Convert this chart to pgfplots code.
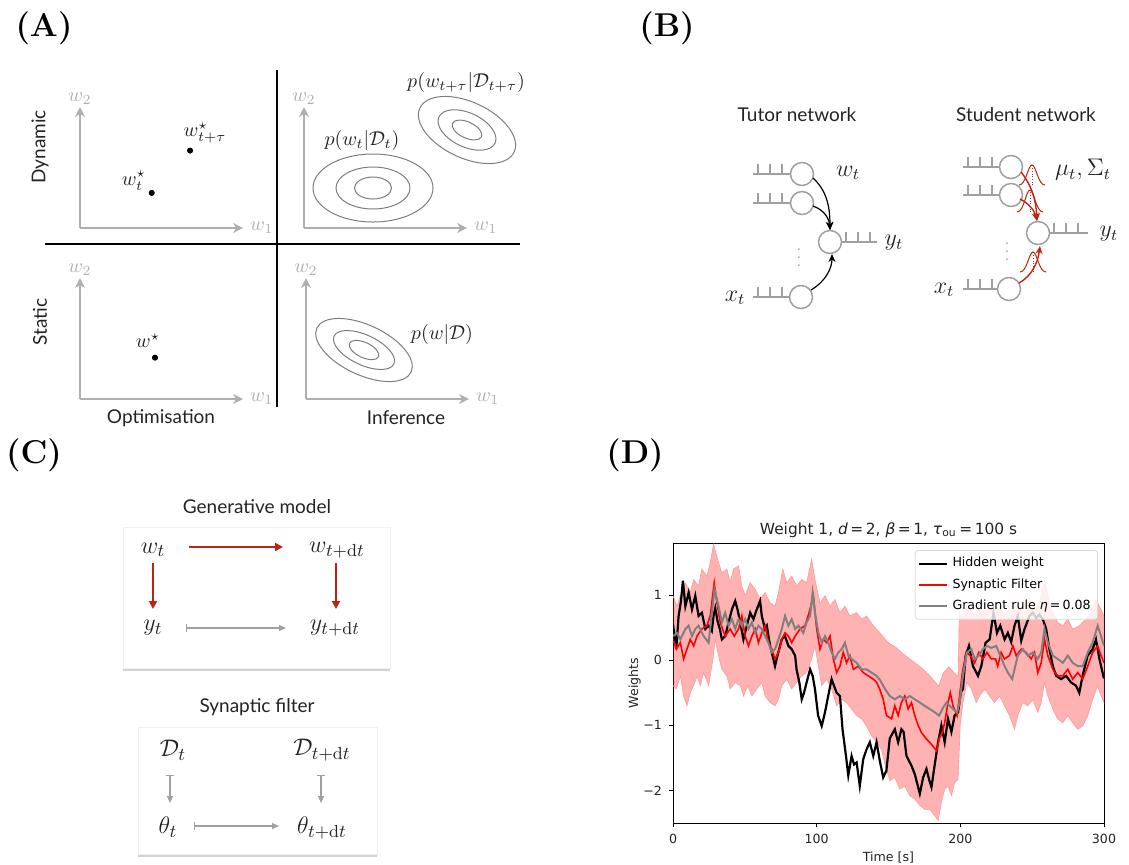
\documentclass[border=0pt]{standalone}
\usepackage{fontspec}
\usepackage{amsmath}
\usepackage{pgfplots}
\usepackage{pgfplotstable}
\pgfplotsset{compat=1.18}
\usetikzlibrary{arrows.meta,shadows}

\newfontfamily\gill{Lato}
\newfontfamily\dv{DejaVu Sans}

\definecolor{axgray}{RGB}{175,175,175}
\definecolor{ellgray}{RGB}{125,125,125}
\definecolor{neur}{RGB}{160,160,160}
\definecolor{darkred}{RGB}{190,35,20}
\definecolor{mplred}{RGB}{255,0,0}
\definecolor{mplgray}{RGB}{128,128,128}
\definecolor{txt}{RGB}{35,35,35}

\newcommand{\lblfont}{\fontsize{16.5}{20}\selectfont\bfseries}
\newcommand{\gs}{\gill\fontsize{9.5}{11}\selectfont}
\newcommand{\amath}{\fontsize{10}{12}\selectfont}
\newcommand{\bmath}{\fontsize{12}{14}\selectfont}
\newcommand{\cmath}{\fontsize{12.5}{15}\selectfont}
\newcommand{\dvs}{\dv\fontsize{6.3}{7.5}\selectfont}

% spike train: x0, x1, y
\newcommand{\train}[3]{%
  \draw[neur, line width=0.75pt] (#1,#3) -- (#2,#3);
  \foreach \k in {0,1,2} \draw[neur, line width=0.75pt] ({#1+5+12*\k},#3) -- ({#1+5+12*\k},{#3-10});}
% small gaussian: centre x, base y, height
\newcommand{\gauss}[3]{%
  \draw[darkred, line width=0.5pt] ({#1-13},#2) .. controls ({#1-6},#2) and ({#1-4},{#2-#3}) .. (#1,{#2-#3})
        .. controls ({#1+4},{#2-#3}) and ({#1+6},#2) .. ({#1+13},#2);
  \draw[darkred, densely dotted, line width=0.35pt] (#1,#2) -- (#1,{#2-#3});}

\pgfplotsset{
  mini/.style={anchor=south west, scale only axis, width=81.5pt, height=60.5pt,
    xmin=0, xmax=1, ymin=0, ymax=1, enlargelimits=false, axis lines=left,
    ticks=none, clip=false,
    axis line style={draw=axgray, line width=1pt, -{Stealth[length=5pt,width=5pt]}}},
}

% ---- panel D data ----
\pgfplotstableread{
t v
0 0.55
1.5 0.30
2.5 0.25
3.9 0.68
5.5 0.90
6.9 1.22
8.6 0.83
10.9 1.04
13.2 0.78
15.5 0.99
17.8 0.68
20.1 0.73
22.5 0.48
24.8 0.53
27 0.45
28.2 0.68
29.4 0.80
31 0.60
32.6 0.48
34 0.32
36.3 0.37
38.7 0.58
41 0.78
43.3 0.91
44.9 0.78
46.8 0.58
49 0.32
51.4 0.53
53.7 0.73
56 0.63
58.3 0.78
60.6 0.91
61.8 0.68
64 0.48
65.3 0.53
67.6 0.22
69.5 0.05
71 -0.09
72.7 0.07
75.7 0.32
78 0.37
80.3 0.22
82.6 0.17
85 0.07
86 -0.14
88 -0.35
89.6 -0.60
91.2 -0.50
93 -0.34
95.4 -0.14
97.2 -0.24
98.8 -0.44
101 -0.85
103.5 -1.01
105.8 -0.80
108 -0.55
110.4 -0.29
112 -0.39
113.9 -0.50
116.2 -0.55
118 -1.06
120.4 -1.47
122 -1.77
124.3 -1.47
126 -1.60
127.8 -1.57
130 -1.93
132.4 -1.52
134.7 -1.37
137 -1.26
139.4 -1.47
141.7 -1.26
144 -1.55
146.3 -1.80
148.5 -1.70
150.9 -1.20
154.4 -1.06
156.7 -1.26
159 -1.06
160.5 -1.10
162.5 -1.47
166 -1.62
168.3 -1.75
171.8 -2.05
174.1 -1.80
176.4 -1.67
178.5 -1.85
179.9 -1.95
182.2 -1.60
184.5 -1.26
186.8 -1.00
189.1 -1.26
191.4 -0.90
193.8 -1.10
196 -0.85
198.4 -0.80
200.4 -0.49
201.8 -0.44
203.7 0.07
206 0.22
208.8 -0.09
212.3 -0.24
214.6 -0.09
217.6 0.27
220.4 0.32
223.1 0.73
225.5 0.42
227.8 0.53
230.8 0.32
233.1 0.42
235.4 0.28
237.7 0.53
240 0.68
242.4 0.30
244.7 0.48
248.1 0.68
250.5 0.73
252.8 0.65
255 0.70
257.4 0.63
259.7 0.48
262 0.17
264.4 -0.09
266.7 -0.24
270.1 -0.29
273.6 -0.24
277 -0.34
280.5 -0.39
282.8 -0.50
285.1 -0.24
288.6 0.07
292.1 0.17
294.4 0.32
296.8 0.02
299.5 -0.24
300 -0.28
}\hiddenw

\pgfplotstableread{
t v
0 0.32
2.3 0.17
5.1 0.27
7.4 0.02
9.7 0.17
12 0.32
14.4 0.22
16.7 0.37
20.1 0.48
23.6 0.53
25.9 0.68
28.7 1.19
30.6 0.88
32.9 0.58
36.3 0.37
39.8 0.48
42.6 0.37
45.6 0.48
47.9 0.68
50.2 0.37
52.5 0.22
54.9 0.37
57.2 0.48
59.5 0.27
61.8 0.42
64.1 0.53
66.4 0.27
68.8 0.17
71 0.02
73.4 0.12
75.7 0.32
78 0.42
80.3 0.37
82.6 0.27
85 0.37
88.4 0.48
91.9 0.53
95.4 0.78
97.7 0.99
100 0.48
102.3 0.17
104.6 0.32
107 0.27
109.3 0.37
111.6 0.02
113.9 -0.19
116.2 -0.09
118.5 0.12
120.8 -0.04
123.1 0.07
125.5 -0.14
128.9 -0.09
132.4 -0.19
135.9 -0.24
139.4 -0.29
141.7 -0.34
144 -0.45
146.3 -0.60
148.6 -0.85
152.1 -0.90
154.4 -0.70
156.7 -0.85
159 -0.65
161.3 -0.55
163.7 -0.75
166 -0.65
168.3 -0.85
170.6 -1.00
172.9 -1.11
176.4 -1.21
179.9 -1.29
183.4 -1.39
185.2 -1.21
187.5 -1.11
189.1 -0.96
191.4 -0.65
193 -0.50
194.9 -0.70
197.7 -0.85
199.5 -0.55
201.4 -0.19
204.1 0.12
206.9 0.07
209.9 -0.04
212.9 0.12
215.7 0.02
218.5 0.12
221.5 0.02
224.5 0.02
226 -0.09
228.4 0.12
230.7 0.02
234.2 0.07
236.6 0.22
238.9 0.07
242.4 0.17
245.8 0.12
249.3 0.02
251.6 0.12
253.9 -0.19
256.3 -0.04
258.6 0.32
260.9 0.07
264.4 -0.14
267.8 -0.24
271.3 -0.24
274.8 -0.14
278.2 -0.29
281.7 -0.19
285.2 -0.29
288.7 -0.09
292.1 0.12
295.6 0.22
298 0.07
300 -0.04
}\filterw

\pgfplotstableread{
t v
0 0.37
2.8 0.42
5.1 0.32
8.6 0.48
10.9 0.53
13.2 0.37
15.5 0.48
17.8 0.53
21.3 0.37
24.8 0.27
27.1 0.73
28.9 1.09
31.7 0.83
34 0.58
36.3 0.73
38.7 0.53
41 0.63
43.3 0.48
45.6 0.63
47.9 0.53
50.2 0.63
52.5 0.48
54.9 0.58
57.2 0.42
59.5 0.53
61.8 0.48
64.1 0.37
66.4 0.27
68.8 0.12
71 0.17
73.4 0.32
75.7 0.48
78 0.68
80.3 0.53
82.6 0.63
85 0.48
87.3 0.53
90.7 0.42
93 0.58
95.4 0.68
97.2 1.04
98.8 0.73
101.2 0.42
103.5 0.27
105.8 0.37
108.1 0.27
110.4 0.12
112.7 0.02
115 0.12
117.4 0.17
119.7 0.27
122 0.07
124.3 0.02
127.8 -0.04
131.3 -0.14
134.7 -0.14
138.2 -0.19
141.7 -0.24
144 -0.30
147.5 -0.44
150.9 -0.55
154.4 -0.60
157.9 -0.55
161.3 -0.60
164.8 -0.55
168.3 -0.60
171.8 -0.65
175.2 -0.70
178.7 -0.75
182.2 -0.80
185.2 -0.85
188 -0.73
190.3 -0.65
192.6 -0.70
194.9 -0.75
197.7 -0.80
199.5 -0.65
201.8 -0.24
204.6 0.12
207.6 0.17
210 0.02
212.9 0.07
215.7 0.17
218.5 0.22
221.5 0.19
225 0.22
227.8 0.07
230.8 -0.09
233.1 -0.19
236.1 -0.29
237.7 -0.14
240 0.07
243.5 0.17
247 0.07
250.5 0.12
253.9 0.02
256.3 0.12
258.6 0.48
260.9 0.27
264.4 0.07
267.8 0.02
271.3 -0.04
274.8 0.07
278.2 -0.04
281.7 -0.09
285.2 -0.09
288.7 0.12
292.1 0.27
295.6 0.53
298 0.37
300 0.22
}\gradw

% band: upper edge left to right, then lower edge right to left
\pgfplotstableread{
t v
0 0.99
2.8 0.83
5.1 0.99
8.6 1.19
12 1.04
14.4 1.24
17.8 1.14
20.1 1.40
23.6 1.29
25.9 1.50
28.2 1.78
31.7 1.50
34 1.34
37.5 1.40
39.8 1.19
42.1 1.40
45.6 1.45
47.9 1.14
50.2 0.99
53.7 1.19
57.2 1.09
60.6 0.94
64.1 1.04
67.6 0.88
71 0.83
73.4 1.04
76.4 1.40
79.2 1.19
82.6 1.29
86.1 1.14
89.6 1.24
93 1.19
96.5 1.55
98.8 1.24
102.3 0.88
105.8 0.99
109.3 0.83
112.7 0.93
116.2 0.73
119.7 0.83
123.1 0.68
127.8 0.73
131.3 0.63
134.7 0.68
139.4 0.53
144 0.42
149.8 0.27
155 0.20
160 0.10
166 0.00
172 -0.10
178 -0.22
183 -0.35
185 -0.40
188 -0.20
192 -0.10
196 -0.20
198.5 -0.25
199.3 0.74
201.8 0.63
204.6 0.88
207.6 0.73
211.1 0.68
213.4 0.83
216.9 0.73
220.4 0.83
223.8 0.78
227.3 0.83
230.8 0.68
234.2 0.78
237.7 0.88
241.2 0.78
244.7 0.73
248.1 0.93
251.6 0.78
255 0.88
258.6 1.24
260.9 0.99
264.4 0.73
267.8 0.58
271.3 0.53
274.8 0.63
278.2 0.48
282.8 0.53
287.5 0.63
290.9 0.73
294.4 0.93
297.9 0.78
300 0.68
300 -0.65
298 -0.55
295.6 -0.39
292.1 -0.60
288.7 -0.85
285.2 -1.01
281.7 -1.06
278.2 -0.96
274.8 -0.85
271.3 -0.96
267.8 -0.90
264.4 -0.75
260.9 -0.55
258.6 -0.34
256.3 -0.65
253.9 -0.80
250.5 -0.60
247 -0.70
243.5 -0.65
240 -0.85
237.7 -1.06
234.2 -0.85
230.8 -0.70
227.3 -0.55
223.8 -0.65
220.4 -0.55
216.9 -0.44
213.4 -0.55
211.1 -0.65
207.6 -0.44
204.6 -0.34
201.8 -0.65
200 -0.96
198.4 -1.83
196 -1.88
193.8 -2.08
191.4 -1.93
189.1 -1.98
186.8 -2.18
184.6 -2.46
182.2 -2.39
178.7 -2.29
175.2 -2.29
171.8 -2.23
168.3 -2.13
164.8 -2.08
161.3 -1.93
157.9 -1.98
154.4 -1.80
150.9 -1.85
147.5 -1.60
145.1 -1.37
141.7 -1.26
138.2 -1.16
134.7 -1.01
131.3 -0.90
127.8 -0.85
124.3 -0.75
120.8 -0.65
117.4 -0.60
113.9 -0.70
110.4 -0.44
107 -0.29
103.5 -0.39
101.2 -0.09
98.8 0.22
96.5 0.02
93 -0.19
89.6 -0.24
86.1 -0.34
82.6 -0.44
79.2 -0.29
75.7 -0.39
73.4 -0.60
71 -0.70
67.6 -0.65
64.1 -0.55
61.8 -0.34
58.3 -0.44
54.9 -0.55
51.9 -0.39
49.1 -0.55
46.8 -0.39
43.3 -0.34
39.8 -0.44
37.5 -0.24
34 -0.14
31.7 0.07
29.4 0.32
27.8 0.02
24.8 -0.39
21.3 -0.19
19 -0.39
16.7 -0.24
14.4 -0.39
12 -0.50
9.7 -0.70
7.4 -0.55
5.1 -0.24
2.3 -0.44
0 -0.39
}\band

\begin{document}
\begin{tikzpicture}
\useasboundingbox (0,0) rectangle (564.5pt,-432pt);

\begin{scope}[x=0.5pt, y=-0.5pt]
% panel letters
\node[font=\lblfont] at (44,28) {(A)};
\node[font=\lblfont] at (667,28) {(B)};
\node[font=\lblfont] at (34,455) {(C)};
\node[font=\lblfont] at (635,455) {(D)};

% ---------- panel A ----------
\draw[black, line width=1pt] (277,70) -- (277,407);
\draw[black, line width=1pt] (45,244) -- (520,244);
\node[font=\gs, text=txt, rotate=90] at (40,147) {Dynamic};
\node[font=\gs, text=txt, rotate=90] at (40,322) {Static};
\node[font=\gs, text=txt] at (161,418) {Optimisation};
\node[font=\gs, text=txt] at (406,418) {Inference};

\draw[ellgray, line width=0.5pt] (373,188) ellipse [x radius=30pt, y radius=17pt];
\draw[ellgray, line width=0.5pt] (373,188) ellipse [x radius=18.5pt, y radius=10.5pt];
\draw[ellgray, line width=0.5pt] (373,188) ellipse [x radius=9.25pt, y radius=5.5pt];
\begin{scope}[rotate around={-25:(467,130)}]
\draw[ellgray, line width=0.5pt] (467,130) ellipse [x radius=26pt, y radius=14pt];
\draw[ellgray, line width=0.5pt] (467,130) ellipse [x radius=15.5pt, y radius=8.5pt];
\draw[ellgray, line width=0.5pt] (467,130) ellipse [x radius=8pt, y radius=4pt];
\end{scope}
\begin{scope}[rotate around={-25:(364,350)}]
\draw[ellgray, line width=0.5pt] (364,350) ellipse [x radius=26pt, y radius=12.5pt];
\draw[ellgray, line width=0.5pt] (364,350) ellipse [x radius=16.5pt, y radius=7.5pt];
\draw[ellgray, line width=0.5pt] (364,350) ellipse [x radius=8pt, y radius=3.8pt];
\end{scope}
\node[font=\amath, text=txt] at (466,82) {$p(w_{t+\tau}|\mathcal{D}_{t+\tau})$};
\node[font=\amath, text=txt] at (362,140) {$p(w_t|\mathcal{D}_t)$};
\node[font=\amath, text=txt] at (442,334) {$p(w|\mathcal{D})$};

% ---------- panel B ----------
\node[font=\gs, text=txt] at (797,115) {Tutor network};
\node[font=\gs, text=txt] at (1026,115) {Student network};
% tutor
\train{753}{790}{174}
\train{753}{790}{203}
\train{753}{790}{297}
\train{841}{877}{242}
\foreach \p in {(802,174),(802,203),(830,242),(801,297)}
  \draw[neur, line width=0.75pt, fill=white] \p circle[radius=5.75pt];
\draw[black, line width=0.6pt, -{Stealth[length=4pt,width=3.5pt]}] (813,178) .. controls (826,190) and (830,205) .. (830,230);
\draw[black, line width=0.6pt, -{Stealth[length=4pt,width=3.5pt]}] (813,206) .. controls (824,210) and (829,218) .. (830,230);
\draw[black, line width=0.6pt, -{Stealth[length=4pt,width=3.5pt]}] (811,290) .. controls (826,281) and (832,268) .. (832,254);
\node[text=neur, font=\fontsize{8}{9}\selectfont, inner sep=0pt] at (799,252) {$\vdots$};
\node[font=\bmath, text=txt] at (848,173) {$w_t$};
\node[font=\bmath, text=txt] at (894,243) {$y_t$};
\node[font=\bmath, text=txt] at (735,298) {$x_t$};
% student
\train{963}{999}{167}
\train{963}{999}{195}
\train{963}{998}{289}
\train{1049}{1088}{233}
\foreach \p in {(1011,167),(1011,195),(1038,233),(1009,289)}
  \draw[neur, line width=0.75pt, fill=white] \p circle[radius=5.75pt];
\gauss{1032}{185}{20}
\gauss{1030}{212}{22}
\gauss{1033}{272}{20}
\draw[darkred, line width=0.7pt, -{Stealth[length=4pt,width=3.5pt]}] (1021,172) .. controls (1032,186) and (1036,200) .. (1037,221);
\draw[darkred, line width=0.7pt, -{Stealth[length=4pt,width=3.5pt]}] (1020,199) .. controls (1030,204) and (1035,212) .. (1037,221);
\draw[darkred, line width=0.7pt, -{Stealth[length=4pt,width=3.5pt]}] (1019,283) .. controls (1032,276) and (1038,262) .. (1040,246);
\node[text=neur, font=\fontsize{8}{9}\selectfont, inner sep=0pt] at (1007,246) {$\vdots$};
\node[font=\bmath, text=txt] at (1083,170) {$\mu_t, \Sigma_t$};
\node[font=\bmath, text=txt] at (1109,234) {$y_t$};
\node[font=\bmath, text=txt] at (944,290) {$x_t$};

% ---------- panel C ----------
\node[font=\gs, text=txt] at (257,507) {Generative model};
\fill[white, drop shadow={shadow xshift=0pt, shadow yshift=-1.5pt, opacity=0.35}] (123,527) rectangle (390,668);
\draw[black!6] (123,527) rectangle (390,668);
\node[font=\cmath, text=txt] at (153,550) {$w_t$};
\node[font=\cmath, text=txt] at (337,550) {$w_{t+\mathrm{d}t}$};
\node[font=\cmath, text=txt] at (153,628) {$y_t$};
\node[font=\cmath, text=txt] at (335,628) {$y_{t+\mathrm{d}t}$};
\draw[darkred, line width=1pt, -{Triangle[length=4pt,width=4pt]}] (189,547) -- (283,547);
\draw[darkred, line width=1pt, -{Triangle[length=4pt,width=4pt]}] (153,563) -- (153,609);
\draw[darkred, line width=1pt, -{Triangle[length=4pt,width=4pt]}] (336,563) -- (336,609);
\draw[neur, line width=0.6pt, {Bar[width=4pt]}-{Triangle[length=3.5pt,width=3pt]}] (186,628) -- (286,628);

\node[font=\gs, text=txt] at (257,707) {Synaptic filter};
\fill[white, drop shadow={shadow xshift=0pt, shadow yshift=-1.5pt, opacity=0.35}] (138,727) rectangle (377,854);
\draw[black!6] (138,727) rectangle (377,854);
\node[font=\cmath, text=txt] at (173,750) {$\mathcal{D}_t$};
\node[font=\cmath, text=txt] at (322,750) {$\mathcal{D}_{t+\mathrm{d}t}$};
\node[font=\cmath, text=txt] at (168,827) {$\theta_t$};
\node[font=\cmath, text=txt] at (322,828) {$\theta_{t+\mathrm{d}t}$};
\draw[neur, line width=0.6pt, {Bar[width=4pt]}-{Triangle[length=3.5pt,width=3pt]}] (170,775) -- (170,803);
\draw[neur, line width=0.6pt, {Bar[width=4pt]}-{Triangle[length=3.5pt,width=3pt]}] (321,775) -- (321,803);
\draw[neur, line width=0.6pt, {Bar[width=4pt]}-{Triangle[length=3.5pt,width=3pt]}] (194,826) -- (279,826);
\end{scope}

% ---------- panel A mini axes ----------
\begin{axis}[mini, at={(80*0.5pt,-228*0.5pt)}]
\addplot[only marks, mark=*, mark size=1.3pt, black] coordinates {(0.44,0.29) (0.675,0.64)};
\node[font=\amath, text=txt] at (axis cs:0.33,0.39) {$w_t^\star$};
\node[font=\amath, text=txt] at (axis cs:0.767,0.785) {$w_{t+\tau}^\star$};
\node[font=\amath, text=axgray, anchor=south, inner sep=1pt] at (rel axis cs:0,1) {$w_2$};
\node[font=\amath, text=axgray, anchor=west] at (rel axis cs:1,0) {$w_1$};
\end{axis}
\begin{axis}[mini, at={(304*0.5pt,-228*0.5pt)}]
\addplot[draw=none] coordinates {(0,0) (1,1)};
\node[font=\amath, text=axgray, anchor=south, inner sep=1pt] at (rel axis cs:0,1) {$w_2$};
\node[font=\amath, text=axgray, anchor=west] at (rel axis cs:1,0) {$w_1$};
\end{axis}
\begin{axis}[mini, at={(80*0.5pt,-399*0.5pt)}]
\addplot[only marks, mark=*, mark size=1.3pt, black] coordinates {(0.46,0.342)};
\node[font=\amath, text=txt] at (axis cs:0.417,0.48) {$w^\star$};
\node[font=\amath, text=axgray, anchor=south, inner sep=1pt] at (rel axis cs:0,1) {$w_2$};
\node[font=\amath, text=axgray, anchor=west] at (rel axis cs:1,0) {$w_1$};
\end{axis}
\begin{axis}[mini, at={(306*0.5pt,-399*0.5pt)}]
\addplot[draw=none] coordinates {(0,0) (1,1)};
\node[font=\amath, text=axgray, anchor=south, inner sep=1pt] at (rel axis cs:0,1) {$w_2$};
\node[font=\amath, text=axgray, anchor=west] at (rel axis cs:1,0) {$w_1$};
\end{axis}

% ---------- panel D ----------
\begin{axis}[
  at={(673*0.5pt,-823*0.5pt)}, anchor=south west,
  scale only axis, width=215.5pt, height=140pt,
  xmin=0, xmax=300, ymin=-2.5, ymax=1.8,
  xtick={0,100,200,300}, ytick={-2,-1,0,1},
  yticklabels={−2,−1,0,1},
  /pgf/number format/assume math mode=true,
  ticklabel style={font=\dvs, text=txt},
  xtick pos=left, ytick pos=left,
  tick align=outside, major tick length=2pt,
  tick style={black, line width=0.5pt},
  axis line style={line width=0.5pt},
  title={Weight 1, \textit{d}\,=\,2, \textit{β}\,=\,1, \textit{τ}\textsubscript{ou}\,=\,100 s},
  title style={font=\dv\fontsize{7.7}{9}\selectfont, text=txt, yshift=-7pt},
  xlabel={Time [s]}, ylabel={Weights},
  label style={font=\dvs, text=txt},
  xlabel shift=-2.5pt, ylabel shift=-5.5pt,
  legend style={at={(0.986,0.975)}, anchor=north east,
    font=\dvs, draw=black!15, rounded corners=1.5pt, fill=white, fill opacity=0.8,
    text opacity=1, row sep=0.3pt, inner sep=1.5pt},
  legend cell align=left,
  legend image code/.code={\draw[#1] (0pt,0pt) -- (14pt,0pt);},
  legend entries={Hidden weight, Synaptic Filter, Gradient rule \textit{η}\,=\,0.08},
]
\addlegendimage{draw=black, line width=1.1pt}
\addlegendimage{draw=red, line width=0.9pt}
\addlegendimage{draw=mplgray, line width=1pt}
\addplot[fill=mplred, fill opacity=0.3, draw=none, forget plot] table {\band};
\addplot[draw=mplred!40, line width=0.3pt, forget plot] table {\band};
\addplot[black, line width=1.1pt, forget plot] table {\hiddenw};
\addplot[mplred, line width=0.8pt, forget plot] table {\filterw};
\addplot[mplgray, line width=1pt, forget plot] table {\gradw};
\end{axis}
\end{tikzpicture}
\end{document}
